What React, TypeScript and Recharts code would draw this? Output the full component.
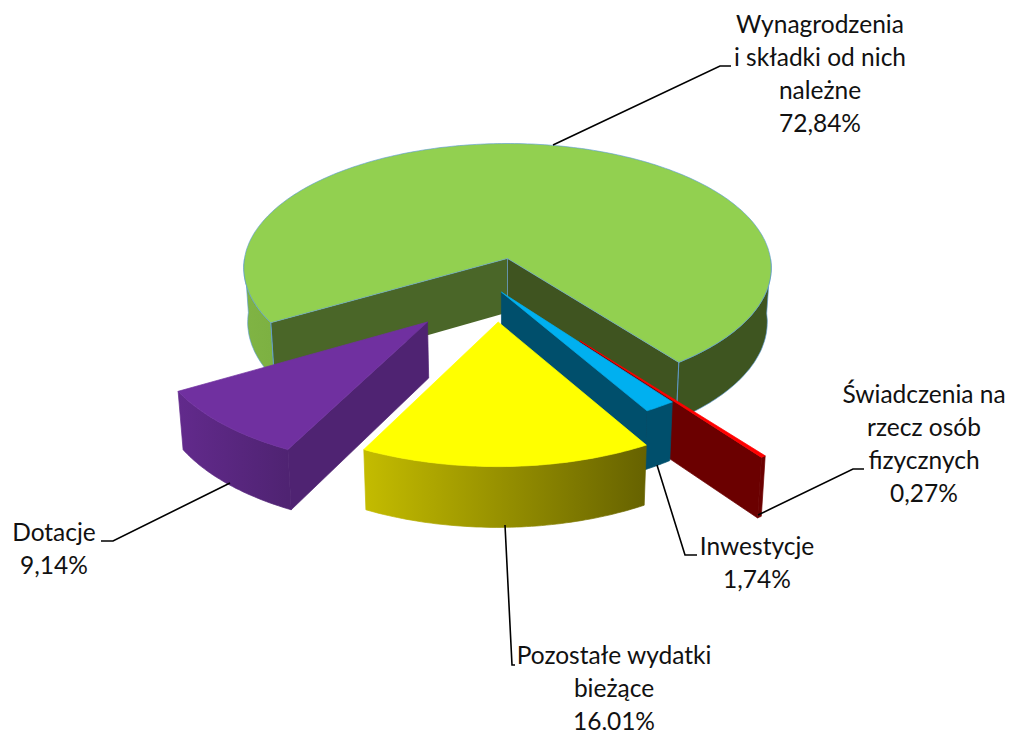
import { PieChart, Pie } from 'recharts';

const categories = [
  'Wynagrodzenia i składki od nich należne',
  'Świadczenia na rzecz osób fizycznych',
  'Inwestycje',
  'Pozostałe wydatki bieżące',
  'Dotacje',
];
const shares = [72.84, 0.27, 1.74, 16.01, 9.14];

const labelLines = [
  ['Wynagrodzenia', 'i składki od nich', 'należne'],
  ['Świadczenia na', 'rzecz osób', 'fizycznych'],
  ['Inwestycje'],
  ['Pozostałe wydatki', 'bieżące'],
  ['Dotacje'],
];

const chartData = categories.map((name, i) => ({ name, value: shares[i] }));

// ground-plane shift of each exploded slice (x to the right, y toward the viewer)
const EXPLODE = [
  [0, 0],
  [69, 167],
  [-6, 70],
  [-9, 130],
  [-77, 130],
];

const STYLES = [
  {
    top: '#92d050',
    faces: ['#3f5420', '#4a6628'],
    wall: [[0, '#80b444'], [0.1, '#7aae40'], [0.6, '#3e5520'], [1, '#3e5520']],
    stroke: '#5b9bd5',
  },
  { top: '#ff0000', faces: ['#6b0000', '#6b0000'], wall: [[0, '#6b0000'], [1, '#6b0000']] },
  { top: '#00b0f0', faces: ['#004f6c', '#004f6c'], wall: [[0, '#004f6c'], [1, '#004f6c']] },
  { top: '#ffff00', faces: ['#6a6600', '#6a6600'], wall: [[0, '#c4bc00'], [1, '#666200']] },
  { top: '#7030a0', faces: ['#4f2372', '#4f2372'], wall: [[0, '#622a8c'], [1, '#4f2372']] },
];

// leader lines and text blocks are placed by hand, as in the original
const LEADERS = [
  [[553, 145], [720, 66], [731, 66]],
  [[758, 515], [853, 469], [864, 469]],
  [[657, 465], [685, 555], [697, 555]],
  [[505, 525], [512, 665], [515, 665]],
  [[230, 483], [113, 541], [101, 541]],
];
const LABEL_POS = [
  { x: 820, y: 33 },
  { x: 924, y: 403 },
  { x: 757, y: 555 },
  { x: 614, y: 664 },
  { x: 54, y: 541 },
];

const FONT = 'Lato, Carlito, sans-serif';
const FONT_SIZE = 24.5;
const LINE_HEIGHT = 33;

const TILT = 0.47;
const CAMERA = 3500;
const DEPTH = 54;
const BASE_SHRINK = 0.985;

const toPath = (pts: number[][]) =>
  'M' + pts.map((p) => `${p[0].toFixed(1)},${p[1].toFixed(1)}`).join('L') + 'Z';

function Slice3D(props: any) {
  const { cx, cy, outerRadius, startAngle, endAngle, index } = props;
  const style = STYLES[index];
  const [ox, oy] = EXPLODE[index];

  const project = (gx: number, gy: number, base = false) => {
    const s = CAMERA / (CAMERA - gy);
    return base
      ? [cx + gx * s * BASE_SHRINK, cy + TILT * gy * s + DEPTH * s]
      : [cx + gx * s, cy + TILT * gy * s];
  };
  const ground = (deg: number) => {
    const a = (deg * Math.PI) / 180;
    return [ox + outerRadius * Math.cos(a), oy - outerRadius * Math.sin(a)];
  };

  const steps = Math.max(2, Math.ceil(Math.abs(startAngle - endAngle)));
  const angles: number[] = [];
  for (let i = 0; i <= steps; i++) angles.push(startAngle + ((endAngle - startAngle) * i) / steps);

  const apexTop = project(ox, oy);
  const apexBase = project(ox, oy, true);
  const rim = angles.map((a) => project(ground(a)[0], ground(a)[1]));
  const rimBase = angles.map((a) => project(ground(a)[0], ground(a)[1], true));
  const mid = project(...(ground((startAngle + endAngle) / 2) as [number, number]));

  // a cut face shows only when the wedge lies above its edge on screen
  const faceVisible = (c: number[]) => {
    const ex = c[0] - apexTop[0];
    const ey = c[1] - apexTop[1];
    const inner = ex * (mid[1] - apexTop[1]) - ey * (mid[0] - apexTop[0]);
    return inner * ex < 0;
  };

  const faces = [
    { top: rim[0], base: rimBase[0], fill: style.faces[1] },
    { top: rim[steps], base: rimBase[steps], fill: style.faces[0] },
  ].filter((f) => faceVisible(f.top));

  // outer wall: only the runs of the arc that face the viewer
  const runs: number[][] = [];
  let run: number[] = [];
  angles.forEach((a, i) => {
    if (Math.sin((a * Math.PI) / 180) <= 0) run.push(i);
    else if (run.length) {
      runs.push(run);
      run = [];
    }
  });
  if (run.length) runs.push(run);

  const xs = rim.map((p) => p[0]);
  const gradId = `wall-${index}`;
  const outline = style.stroke ? { stroke: style.stroke, strokeWidth: 0.8, strokeOpacity: 0.8 } : {};
  // same-colour hairline closes the seams between neighbouring polygons
  const seam = (paint: string) => (style.stroke ? {} : { stroke: paint, strokeWidth: 0.7 });

  return (
    <g>
      <defs>
        <linearGradient
          id={gradId}
          gradientUnits="userSpaceOnUse"
          x1={Math.min(...xs)}
          x2={Math.max(...xs)}
          y1={0}
          y2={0}
        >
          {style.wall.map(([o, c]: any) => (
            <stop key={o} offset={o} stopColor={c} />
          ))}
        </linearGradient>
      </defs>
      {faces.map((f, i) => (
        <path key={i} d={toPath([apexTop, f.top, f.base, apexBase])} fill={f.fill} {...seam(f.fill)} />
      ))}
      {runs.map((r, i) => (
        <path
          key={i}
          d={toPath([...r.map((k) => rim[k]), ...r.map((k) => rimBase[k]).reverse()])}
          fill={`url(#${gradId})`}
          {...seam(`url(#${gradId})`)}
          {...outline}
        />
      ))}
      {style.stroke &&
        faces.map((f, i) => (
          <path key={i} d={`M${f.top[0]},${f.top[1]}L${f.base[0]},${f.base[1]}`} {...outline} fill="none" />
        ))}
      {style.stroke && (
        <path d={`M${apexTop[0]},${apexTop[1]}L${apexBase[0]},${apexBase[1]}`} {...outline} fill="none" />
      )}
      <path d={toPath([apexTop, ...rim])} fill={style.top} {...seam(style.top)} {...outline} />
    </g>
  );
}

const renderLabel = ({ index, value }: any) => {
  const pos = LABEL_POS[index];
  const lines = [...labelLines[index], `${value.toFixed(2).replace('.', ',')}%`];
  return (
    <g key={index}>
      <polyline
        points={LEADERS[index].map((p) => p.join(',')).join(' ')}
        fill="none"
        stroke="#000"
        strokeWidth={1.6}
      />
      <text x={pos.x} y={pos.y} textAnchor="middle" fontFamily={FONT} fontSize={FONT_SIZE} fill="#111">
        {lines.map((line, i) => (
          <tspan key={i} x={pos.x} y={pos.y + i * LINE_HEIGHT}>
            {line}
          </tspan>
        ))}
      </text>
    </g>
  );
};

export default function App() {
  return (
    <div style={{ position: 'absolute', left: 0, top: 0 }}>
      <PieChart width={1014} height={730} margin={{ top: 0, right: 0, bottom: 0, left: 0 }}>
        <Pie
          data={chartData}
          dataKey="value"
          cx={507.5}
          cy={258.5}
          outerRadius={263}
          startAngle={210}
          endAngle={-150}
          stroke="none"
          isAnimationActive={false}
          shape={Slice3D}
          label={renderLabel}
          labelLine={false}
        />
      </PieChart>
    </div>
  );
}
